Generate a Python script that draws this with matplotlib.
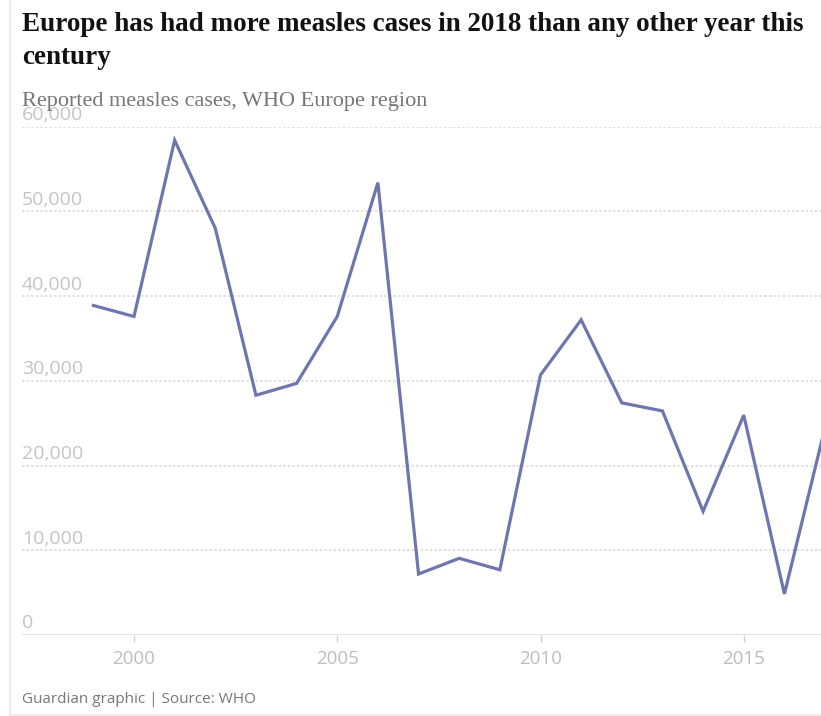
import matplotlib.pyplot as plt
from matplotlib.lines import Line2D

# data (WHO Europe region, reported measles cases)
years = [1999, 2000, 2001, 2002, 2003, 2004, 2005, 2006, 2007, 2008,
         2009, 2010, 2011, 2012, 2013, 2014, 2015, 2016, 2017]
cases = [38900, 37600, 58400, 48000, 28300, 29700, 37600, 53400, 7200, 9050,
         7700, 30700, 37200, 27400, 26450, 14600, 25950, 4850, 24500]
y_ticks = [0, 10000, 20000, 30000, 40000, 50000, 60000]
x_ticks = [2000, 2005, 2010, 2015]

W, H = 821, 716
fig = plt.figure(figsize=(W / 100, H / 100), dpi=100)
fig.patch.set_facecolor('white')

def px(x, y):
    # pixel coords (top-left origin) -> figure fraction
    return x / W, 1 - y / H

# axes placed in pixels: left 22, right 821, top 126.7 (60k), bottom 635 (0)
left, right, top, bottom = 22, 821, 126.7, 635
ax = fig.add_axes([left / W, 1 - bottom / H, (right - left) / W, (bottom - top) / H])
ax.set_facecolor('none')

ppy = 40.65  # pixels per year
ax.set_xlim(2000 - (134 - left) / ppy, 2000 + (right - 134) / ppy)
ax.set_ylim(0, 60000)

ax.plot(years, cases, color='#6f76ae', lw=2.3, solid_joinstyle='miter', zorder=3)

for v in y_ticks:
    if v > 0:
        ax.axhline(v, color='#d6d6d6', lw=1.1, ls=(0, (1.5, 1.5)), zorder=1)
    ax.text(0, v + 300, f'{v:,}', transform=ax.get_yaxis_transform(),
            ha='left', va='bottom', fontsize=14, color='#c4c4c4',
            family='Open Sans')
ax.axhline(0, color='#e0e0e0', lw=2, zorder=1)

for s in ax.spines.values():
    s.set_visible(False)
ax.set_yticks([])
ax.set_xticks(x_ticks)
ax.set_xticklabels([str(t) for t in x_ticks], fontsize=13.5, color='#bdbdbd',
                   family='Open Sans')
ax.tick_params(axis='x', length=5, width=1, color='#d0d0d0', pad=6)

# title, subtitle, footer
fig.text(*px(22, 31), 'Europe has had more measles cases in 2018 than any other year this',
         fontsize=19.5, fontweight='bold', family='Liberation Serif', color='#121212',
         va='baseline')
fig.text(*px(22, 64), 'century', fontsize=19.5, fontweight='bold',
         family='Liberation Serif', color='#121212', va='baseline')
fig.text(*px(22, 106), 'Reported measles cases, WHO Europe region', fontsize=16,
         family='Liberation Serif', color='#767676', va='baseline', zorder=5)
fig.text(*px(22, 703), 'Guardian graphic | Source: WHO', fontsize=11,
         family='Open Sans', color='#777777', va='baseline')

# faint page borders
fig.add_artist(Line2D([9.5 / W, 9.5 / W], [0, 1], color='#ececec', lw=1.5,
                      transform=fig.transFigure))
fig.add_artist(Line2D([9.5 / W, 1], [1 - 714.5 / H] * 2, color='#ececec', lw=1.5,
                      transform=fig.transFigure))

fig.savefig('out.png', dpi=100, facecolor='white')
